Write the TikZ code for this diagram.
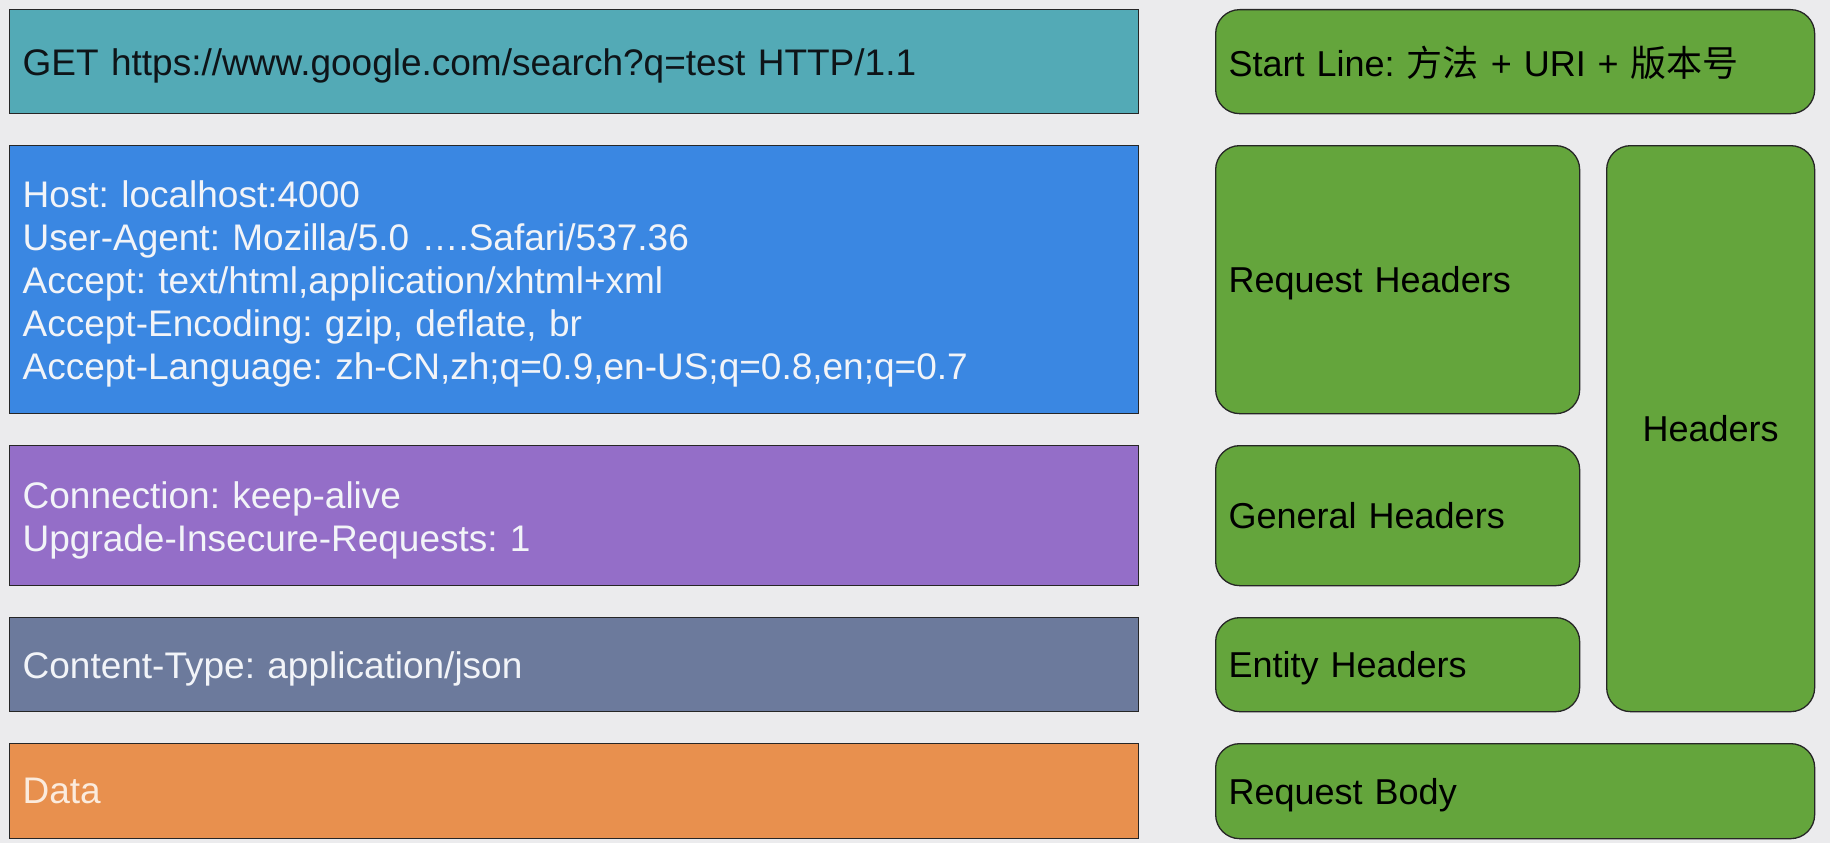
\documentclass[tikz,border=0pt]{standalone}
\usepackage{fontspec}
\setmainfont{Liberation Sans}
\newfontfamily\cjk{Noto Sans CJK SC}
\definecolor{bgcol}{HTML}{EBEBED}
\definecolor{tealc}{HTML}{53AAB6}
\definecolor{bluec}{HTML}{3A87E2}
\definecolor{purplec}{HTML}{946EC8}
\definecolor{slatec}{HTML}{6C7A9C}
\definecolor{orangec}{HTML}{E8904E}
\definecolor{greenc}{HTML}{64A53C}
\definecolor{lighttext}{HTML}{F2F4F8}
\definecolor{datatext}{HTML}{FBEBDD}
\definecolor{darktext}{HTML}{0E1418}
\frenchspacing
\begin{document}
\frenchspacing
\begin{tikzpicture}[x=1pt,y=-1pt,
  lbox/.style={draw=black!85, line width=1.3pt, anchor=north west, inner xsep=13pt, inner ysep=0pt,
    align=left, font=\fontsize{37}{43}\selectfont, text width=1103pt, text depth=0pt},
  gbox/.style={draw=black!85, line width=1.3pt, anchor=north west, fill=greenc, rounded corners=24pt,
    inner xsep=13pt, inner ysep=0pt, align=left, font=\fontsize{36}{43}\selectfont, text=black, text depth=0pt}]
\fill[bgcol] (0,0) rectangle (1830,843);
\useasboundingbox (0,0) rectangle (1830,843);
% left boxes
\node[lbox, fill=tealc, text=darktext, minimum height=104pt] (startl) at (9,9)
  {GET https://www.google.com/search?q=test HTTP/1.1};
\node[lbox, fill=bluec, text=lighttext, minimum height=268pt, text depth=172pt] (reqh) at (9,145)
  {Host: localhost:4000\\User-Agent: Mozilla/5.0 ….Safari/537.36\\Accept: text/html,application/xhtml+xml\\Accept-Encoding: gzip, deflate, br\\Accept-Language: zh-CN,zh;q=0.9,en-US;q=0.8,en;q=0.7};
\node[lbox, fill=purplec, text=lighttext, minimum height=140pt, text depth=42pt] (genh) at (9,445)
  {Connection: keep-alive\\Upgrade-Insecure-Requests: 1};
\node[lbox, fill=slatec, text=lighttext, minimum height=94pt] (enth) at (9,617)
  {Content-Type: application/json};
\node[lbox, fill=orangec, text=datatext, minimum height=95pt] (data) at (9,743)
  {Data};
% right boxes
\node[gbox, text width=573pt, minimum height=104pt] (lstart) at (1215,9)
  {Start Line: {\cjk 方法} + URI + {\cjk 版本号}};
\node[gbox, text width=338pt, minimum height=268pt] (lreqh) at (1215,145)
  {Request Headers};
\node[gbox, text width=338pt, minimum height=140pt] (lgenh) at (1215,445)
  {General Headers};
\node[gbox, text width=338pt, minimum height=94pt] (lenth) at (1215,617)
  {Entity Headers};
\node[gbox, text width=573pt, minimum height=95pt] (lbody) at (1215,743)
  {Request Body};
\node[gbox, align=center, inner xsep=0pt, text width=208pt, minimum height=566pt] (lhead) at (1606,145)
  {Headers};
\end{tikzpicture}
\end{document}
